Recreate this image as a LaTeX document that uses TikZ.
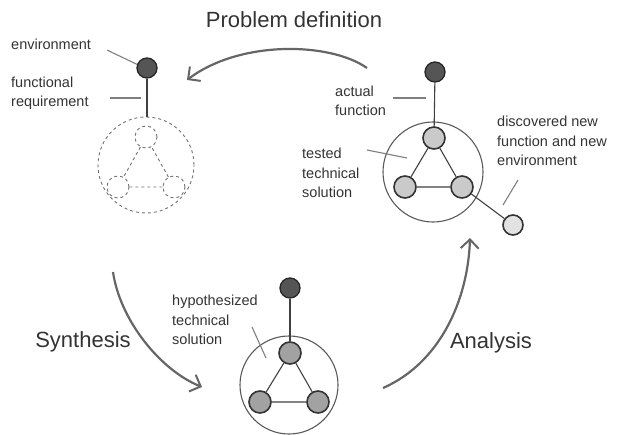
\documentclass[tikz,border=0pt]{standalone}
\usepackage{fontspec}
\setmainfont{Liberation Sans}
\usetikzlibrary{arrows.meta,positioning}
\definecolor{colorDark}{HTML}{555555}
\definecolor{colorLight}{HTML}{CACACA}
\definecolor{colorMid}{HTML}{A2A2A2}
\definecolor{colorPale}{HTML}{E2E2E2}
\definecolor{colorLine}{HTML}{5A5A5A}

\begin{document}
\begin{tikzpicture}[
    x=1pt, y=-1pt,
    envnode/.style={
      circle, draw=black!85, fill=colorDark, line width=1.3pt,
      minimum size=20pt, inner sep=0pt
    },
    solnode/.style={
      circle, draw=black!80, fill=colorLight, line width=1.6pt,
      minimum size=22pt, inner sep=0pt
    },
    hyponode/.style={solnode, fill=colorMid},
    ghostnode/.style={
      circle, draw=black!55, dashed, fill=white, line width=0.9pt,
      minimum size=22pt, inner sep=0pt
    },
    bigcircle/.style={circle, draw=colorLine, line width=1.1pt, inner sep=0pt},
    label/.style={
      align=left, anchor=west, inner sep=0pt,
      font=\fontsize{14.5}{19.5}\selectfont, text=black!80
    },
    title/.style={font=\fontsize{22}{26}\selectfont, text=black!80},
    link/.style={draw=black!75, line width=1.1pt},
    lead/.style={draw=black!50, line width=1.1pt},
    cyc/.style={-{Straight Barb[length=9pt, width=18pt, line width=2pt]},
      line width=2.2pt, draw=black!60}
  ]
    \useasboundingbox (0,0) rectangle (626,434);

    % problem definition
    \node[envnode] (envL) at (147,68) {};
    \node[bigcircle, ghostnode, minimum size=96pt] (bigL) at (146,165) {};
    \node[ghostnode] (topL) at (146,137) {};
    \node[ghostnode] (leftL) at (118,187) {};
    \node[ghostnode] (rightL) at (174,187) {};
    \draw[link] (envL) -- (envL |- bigL.north);
    \draw[link, dashed, draw=black!55, line width=0.9pt] (topL) -- (leftL) -- (rightL) -- (topL);

    \node[label] (lEnv) at (11,44) {environment};
    \node[label] (lReq) at (11,93) {functional\\requirement};
    \coordinate (reqEnd) at (141,98);
    \draw[lead] (107,50) -- (envL.160);
    \draw[lead] (110,98) -- (reqEnd);

    % analysis result
    \node[envnode] (envR) at (435,72) {};
    \node[bigcircle, minimum size=100pt] (bigR) at (433,172) {};
    \node[solnode] (topR) at (434,138) {};
    \node[solnode] (leftR) at (405,187) {};
    \node[solnode] (rightR) at (462,187) {};
    \node[solnode, fill=colorPale, minimum size=20pt] (newR) at (513,225) {};
    \draw[link] (envR) -- (topR);
    \draw[link] (topR) -- (leftR) -- (rightR) -- (topR);
    \draw[link] (rightR) -- (newR);

    \node[label] (lAct) at (335,101) {actual\\function};
    \node[label] (lTest) at (302,173) {tested\\technical\\solution};
    \node[label] (lNew) at (497,141) {discovered new\\function and new\\environment};
    \coordinate (actEnd) at (426,98);
    \coordinate (testEnd) at (407,158);
    \coordinate (newEnd) at (503,205);
    \draw[lead] (393,98) -- (actEnd);
    \draw[lead] (367,150) -- (testEnd);
    \draw[lead] (518,180) -- (newEnd);

    % synthesis result
    \node[envnode] (envB) at (290,288) {};
    \node[bigcircle, minimum size=98pt] (bigB) at (289,385) {};
    \node[hyponode] (topB) at (290,353) {};
    \node[hyponode] (leftB) at (260,402) {};
    \node[hyponode] (rightB) at (318,402) {};
    \draw[link] (envB) -- (topB);
    \draw[link] (topB) -- (leftB) -- (rightB) -- (topB);

    \node[label] (lHyp) at (172,320) {hypothesized\\technical\\solution};
    \coordinate (hypEnd) at (266,358);
    \draw[lead] (252,327) -- (hypEnd);

    % cycle
    \node[title] (tProb) at (294,20) {Problem definition};
    \node[title] (tSyn) at (83,342) {Synthesis};
    \node[title] (tAna) at (491,343) {Analysis};
    \coordinate (probA) at (367,68);
    \coordinate (probB) at (187,80);
    \coordinate (synA) at (113,272);
    \coordinate (synB) at (202,387);
    \coordinate (anaA) at (383,388);
    \coordinate (anaB) at (470,238);
    \draw[cyc] (probA) .. controls (330,42) and (240,40) .. (probB);
    \draw[cyc] (synA) .. controls (120,320) and (160,370) .. (synB);
    \draw[cyc] (anaA) .. controls (440,363) and (468,300) .. (anaB);
  \end{tikzpicture}
\end{document}
